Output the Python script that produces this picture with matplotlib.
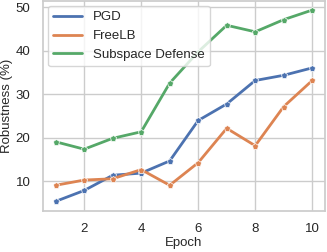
import matplotlib
matplotlib.use("Agg")
import matplotlib.pyplot as plt
from matplotlib.lines import Line2D
import seaborn as sns

epochs = [1, 2, 3, 4, 5, 6, 7, 8, 9, 10]
pgd = [5.4, 7.9, 11.4, 11.9, 14.7, 24.0, 27.8, 33.2, 34.4, 36.1]
freelb = [9.1, 10.3, 10.6, 12.7, 9.1, 14.3, 22.2, 18.2, 27.2, 33.2]
subspace = [19.1, 17.4, 19.9, 21.4, 32.6, 39.8, 45.9, 44.4, 47.2, 49.4]
names = ["PGD", "FreeLB", "Subspace Defense"]

sns.set_theme(style="whitegrid", palette="deep")
plt.rcParams['font.family'] = ['Liberation Sans', 'DejaVu Sans']

fig, ax = plt.subplots(figsize=(3.27, 2.52), dpi=100)
handles = []
for vals, name in zip([pgd, freelb, subspace], names):
    ln, = ax.plot(epochs, vals, marker='p', markersize=5, linewidth=2,
                  markeredgecolor='white', markeredgewidth=0.5)
    handles.append(Line2D([], [], color=ln.get_color(), linewidth=2, label=name))

ax.set_xticks([2, 4, 6, 8, 10])
ax.set_xlabel("Epoch", fontsize=9.5, labelpad=1)
ax.set_ylabel("Robustness (%)", fontsize=9.5, labelpad=2)
ax.tick_params(labelsize=9.5, pad=3)
ax.legend(handles=handles, loc='upper left', fontsize=9.5,
          borderaxespad=0.4, handlelength=2.2)

fig.subplots_adjust(left=0.131, right=0.994, top=0.998, bottom=0.163)
fig.savefig("out.png", dpi=100)
